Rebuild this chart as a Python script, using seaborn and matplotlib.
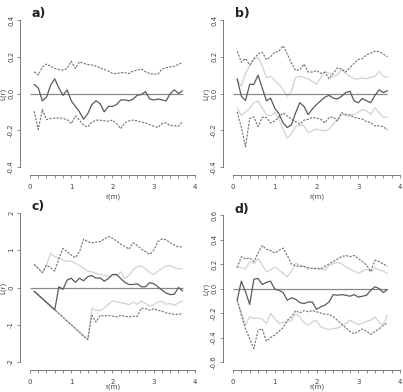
import matplotlib
matplotlib.use("Agg")
import matplotlib.pyplot as plt
import seaborn as sns

# distances r (m)
r = [0.1, 0.2, 0.3, 0.4, 0.5, 0.6, 0.7, 0.8, 0.9, 1.0,
     1.1, 1.2, 1.3, 1.4, 1.5, 1.6, 1.7, 1.8, 1.9, 2.0,
     2.1, 2.2, 2.3, 2.4, 2.5, 2.6, 2.7, 2.8, 2.9, 3.0,
     3.1, 3.2, 3.3, 3.4, 3.5, 3.6, 3.7]

# panel a
a_obs = [0.05, 0.03, -0.04, -0.02, 0.045, 0.08, 0.03, -0.01, 0.02, -0.04,
         -0.07, -0.10, -0.14, -0.11, -0.06, -0.04, -0.055, -0.10, -0.07, -0.07,
         -0.06, -0.035, -0.035, -0.04, -0.03, -0.01, -0.005, 0.01, -0.03, -0.035,
         -0.03, -0.035, -0.04, 0.0, 0.02, 0.0, 0.015]
a_hi = [0.118, 0.10, 0.145, 0.16, 0.149, 0.136, 0.131, 0.127, 0.136, 0.176,
        0.136, 0.173, 0.164, 0.158, 0.155, 0.149, 0.14, 0.131, 0.122, 0.109,
        0.109, 0.113, 0.113, 0.109, 0.122, 0.127, 0.133, 0.118, 0.109, 0.105,
        0.105, 0.133, 0.14, 0.145, 0.149, 0.158, 0.169]
a_lo = [-0.096, -0.196, -0.087, -0.142, -0.136, -0.133, -0.133, -0.136, -0.142, -0.164,
        -0.122, -0.145, -0.173, -0.182, -0.155, -0.145, -0.145, -0.149, -0.151, -0.145,
        -0.164, -0.191, -0.16, -0.149, -0.145, -0.149, -0.155, -0.16, -0.169, -0.178,
        -0.185, -0.164, -0.16, -0.175, -0.175, -0.178, -0.151]

# panel b
b_obs = [0.08, -0.015, -0.038, 0.05, 0.05, 0.1, 0.03, -0.04, -0.025, -0.08,
         -0.11, -0.16, -0.185, -0.17, -0.105, -0.05, -0.07, -0.115, -0.085, -0.06,
         -0.04, -0.02, -0.01, -0.025, -0.03, -0.015, 0.005, 0.012, -0.04, -0.05,
         -0.027, -0.04, -0.05, -0.01, 0.02, 0.005, 0.015]
b_hi = [0.23, 0.17, 0.19, 0.155, 0.19, 0.215, 0.225, 0.185, 0.2, 0.225,
        0.23, 0.26, 0.215, 0.165, 0.125, 0.13, 0.16, 0.117, 0.117, 0.125,
        0.11, 0.115, 0.08, 0.11, 0.14, 0.133, 0.117, 0.14, 0.165, 0.185,
        0.19, 0.21, 0.22, 0.23, 0.228, 0.215, 0.2]
b_lo = [-0.1, -0.185, -0.29, -0.135, -0.128, -0.18, -0.13, -0.13, -0.16, -0.15,
        -0.128, -0.105, -0.122, -0.14, -0.153, -0.167, -0.145, -0.14, -0.13, -0.135,
        -0.14, -0.16, -0.13, -0.128, -0.15, -0.105, -0.114, -0.117, -0.13, -0.135,
        -0.14, -0.153, -0.158, -0.176, -0.176, -0.18, -0.2]
b_lhi = [0.075, 0.04, 0.11, 0.15, 0.185, 0.196, 0.15, 0.085, 0.095, 0.07,
         0.05, 0.02, -0.015, 0.012, 0.088, 0.093, 0.088, 0.08, 0.066, 0.05,
         0.085, 0.12, 0.11, 0.093, 0.1, 0.13, 0.11, 0.093, 0.08, 0.079,
         0.085, 0.08, 0.088, 0.093, 0.12, 0.093, 0.088]
b_llo = [-0.08, -0.12, -0.10, -0.08, -0.05, -0.04, -0.08, -0.115, -0.122, -0.104,
         -0.14, -0.195, -0.243, -0.22, -0.18, -0.17, -0.176, -0.212, -0.203, -0.194,
         -0.2, -0.203, -0.194, -0.167, -0.14, -0.113, -0.122, -0.122, -0.113, -0.104,
         -0.086, -0.095, -0.113, -0.077, -0.104, -0.131, -0.128]

# panel c
c_obs = [-0.1, -0.2, -0.3, -0.4, -0.5, -0.6, 0.02, -0.05, 0.2, 0.25,
         0.14, 0.25, 0.18, 0.29, 0.32, 0.25, 0.26, 0.17, 0.24, 0.35,
         0.35, 0.24, 0.14, 0.08, 0.08, 0.1, 0.02, 0.02, 0.13, 0.1,
         0.02, -0.07, -0.15, -0.19, -0.18, 0.0, -0.09]
c_hi = [0.62, 0.51, 0.4, 0.6, 0.53, 0.44, 0.78, 1.05, 0.96, 0.87,
        0.8, 0.96, 1.3, 1.23, 1.2, 1.22, 1.23, 1.3, 1.37, 1.32,
        1.25, 1.16, 1.1, 1.03, 1.2, 1.13, 1.03, 0.96, 0.89, 1.0,
        1.23, 1.3, 1.28, 1.2, 1.14, 1.08, 1.1]
c_lo = [-0.1, -0.2, -0.3, -0.4, -0.5, -0.6, -0.7, -0.8, -0.9, -1.0,
        -1.1, -1.2, -1.3, -1.4, -0.75, -0.93, -0.75, -0.77, -0.75, -0.77,
        -0.79, -0.75, -0.77, -0.79, -0.77, -0.78, -0.55, -0.57, -0.61, -0.57,
        -0.61, -0.64, -0.68, -0.7, -0.72, -0.72, -0.7]
c_lhi = [0.62, 0.51, 0.4, 0.6, 0.92, 0.83, 0.8, 0.74, 0.7, 0.71,
         0.65, 0.59, 0.51, 0.44, 0.42, 0.38, 0.35, 0.33, 0.29, 0.32,
         0.33, 0.42, 0.24, 0.33, 0.47, 0.56, 0.58, 0.5, 0.4, 0.35,
         0.44, 0.51, 0.58, 0.59, 0.53, 0.5, 0.51]
c_llo = [-0.1, -0.2, -0.3, -0.4, -0.5, -0.6, -0.7, -0.8, -0.9, -1.0,
         -1.1, -1.2, -1.3, -1.4, -0.56, -0.61, -0.62, -0.55, -0.45, -0.36,
         -0.38, -0.41, -0.43, -0.46, -0.39, -0.45, -0.37, -0.43, -0.5, -0.46,
         -0.39, -0.37, -0.45, -0.43, -0.48, -0.41, -0.36]

# panel d
d_obs = [-0.095, 0.06, -0.027, -0.13, 0.076, 0.082, 0.033, 0.05, 0.06, -0.005,
         -0.014, -0.033, -0.095, -0.076, -0.087, -0.115, -0.123, -0.11, -0.11, -0.17,
         -0.15, -0.136, -0.11, -0.05, -0.055, -0.05, -0.055, -0.063, -0.05, -0.07,
         -0.063, -0.055, -0.014, 0.014, 0.0, -0.033, -0.008]
d_hi = [0.17, 0.26, 0.24, 0.25, 0.22, 0.29, 0.35, 0.32, 0.31, 0.29,
        0.31, 0.33, 0.27, 0.2, 0.185, 0.18, 0.18, 0.17, 0.165, 0.16,
        0.16, 0.18, 0.2, 0.22, 0.24, 0.26, 0.27, 0.26, 0.27, 0.245,
        0.22, 0.19, 0.14, 0.23, 0.22, 0.2, 0.18]
d_lo = [-0.095, -0.22, -0.33, -0.41, -0.49, -0.34, -0.33, -0.43, -0.4, -0.38,
        -0.35, -0.32, -0.26, -0.23, -0.18, -0.2, -0.18, -0.19, -0.18, -0.19,
        -0.2, -0.21, -0.21, -0.23, -0.26, -0.29, -0.32, -0.35, -0.37, -0.35,
        -0.33, -0.35, -0.375, -0.35, -0.33, -0.3, -0.28]
d_lhi = [0.177, 0.169, 0.158, 0.218, 0.204, 0.245, 0.191, 0.136, 0.15, 0.177,
         0.15, 0.123, 0.095, 0.142, 0.204, 0.191, 0.177, 0.158, 0.163, 0.169,
         0.163, 0.15, 0.185, 0.204, 0.213, 0.204, 0.177, 0.158, 0.142, 0.123,
         0.142, 0.158, 0.136, 0.169, 0.15, 0.142, 0.123]
d_llo = [-0.095, -0.19, -0.3, -0.23, -0.245, -0.24, -0.25, -0.286, -0.204, -0.245,
         -0.286, -0.278, -0.272, -0.259, -0.204, -0.232, -0.278, -0.3, -0.272, -0.259,
         -0.313, -0.327, -0.335, -0.327, -0.322, -0.305, -0.286, -0.259, -0.278, -0.294,
         -0.286, -0.267, -0.259, -0.232, -0.278, -0.294, -0.218]

panels = {
    "a)": dict(obs=a_obs, hi=a_hi, lo=a_lo, lhi=None, llo=None, ylim=(-0.4, 0.4), ystep=0.2, fmt="{:.1f}"),
    "b)": dict(obs=b_obs, hi=b_hi, lo=b_lo, lhi=b_lhi, llo=b_llo, ylim=(-0.4, 0.4), ystep=0.2, fmt="{:.1f}"),
    "c)": dict(obs=c_obs, hi=c_hi, lo=c_lo, lhi=c_lhi, llo=c_llo, ylim=(-2, 2), ystep=1, fmt="{:.0f}"),
    "d)": dict(obs=d_obs, hi=d_hi, lo=d_lo, lhi=d_lhi, llo=d_llo, ylim=(-0.6, 0.6), ystep=0.2, fmt="{:.1f}"),
}

sns.set_style("white")
plt.rcParams['font.family'] = ['DejaVu Sans']

W, H = 403, 392
fig = plt.figure(figsize=(W / 100, H / 100), dpi=100)

# axes boxes in pixels: (x at 0, x at 4, y at top limit, y at bottom limit)
boxes = {
    "a)": (30, 195, 20, 167),
    "b)": (233, 400, 20, 167),
    "c)": (30, 195, 213, 362),
    "d)": (233, 400, 215, 362),
}

dark = "#5a5a5a"
dash = "#707070"
light = "#d2d2d2"

for name, p in panels.items():
    x0, x1, yt, yb = boxes[name]
    ax = fig.add_axes([x0 / W, 1 - yb / H, (x1 - x0) / W, (yb - yt) / H])
    ax.set_facecolor("none")
    if p["lhi"] is not None:
        sns.lineplot(x=r, y=p["lhi"], ax=ax, color=light, lw=0.9)
        sns.lineplot(x=r, y=p["llo"], ax=ax, color=light, lw=0.9)
    ax.hlines(0, 0, r[-1], color="#8a8a8a", lw=0.9)
    sns.lineplot(x=r, y=p["hi"], ax=ax, color=dash, lw=0.8, linestyle=(0, (2, 1.2)))
    sns.lineplot(x=r, y=p["lo"], ax=ax, color=dash, lw=0.8, linestyle=(0, (2, 1.2)))
    sns.lineplot(x=r, y=p["obs"], ax=ax, color=dark, lw=0.9)

    lo, hi = p["ylim"]
    ax.set_xlim(0, 4)
    ax.set_ylim(lo, hi)
    for s in ["top", "right"]:
        ax.spines[s].set_visible(False)
    ax.spines["left"].set_position(("outward", 7))
    ax.spines["bottom"].set_position(("outward", 6))
    for s in ["left", "bottom"]:
        ax.spines[s].set_color("#777777")
        ax.spines[s].set_linewidth(0.7)

    xt = [i * 0.2 for i in range(21)]
    ax.set_xticks(xt)
    ax.set_xticklabels([str(int(round(v))) if abs(v - round(v)) < 1e-6 else "" for v in xt])
    n = int(round((hi - lo) / p["ystep"]))
    yt_vals = [lo + i * p["ystep"] for i in range(n + 1)]
    ax.set_yticks(yt_vals)
    ax.set_yticklabels([p["fmt"].format(v + 0.0) for v in yt_vals], rotation=90, va="center")
    ax.tick_params(axis="both", length=2.5, width=0.6, color="#777777",
                   labelsize=5, labelcolor="#444444", pad=2, left=True, bottom=True)
    ax.tick_params(axis="x", pad=3.5)
    ax.set_xlabel("")
    ax.set_ylabel("")

    fig.text((x0 + 2) / W, 1 - (yt - 6) / H, name, fontsize=9, fontweight="bold",
             color="#222222", ha="left", va="center")
    fig.text((x0 + x1) / 2 / W, 1 - min(yb + 30, 387) / H, "r(m)", fontsize=5,
             color="#444444", ha="center", va="center")
    fig.text((x0 - 27) / W, 1 - (yt + yb) / 2 / H, "L(r)", fontsize=5,
             color="#444444", ha="center", va="center", rotation=90)

fig.savefig("out.png", dpi=100)
